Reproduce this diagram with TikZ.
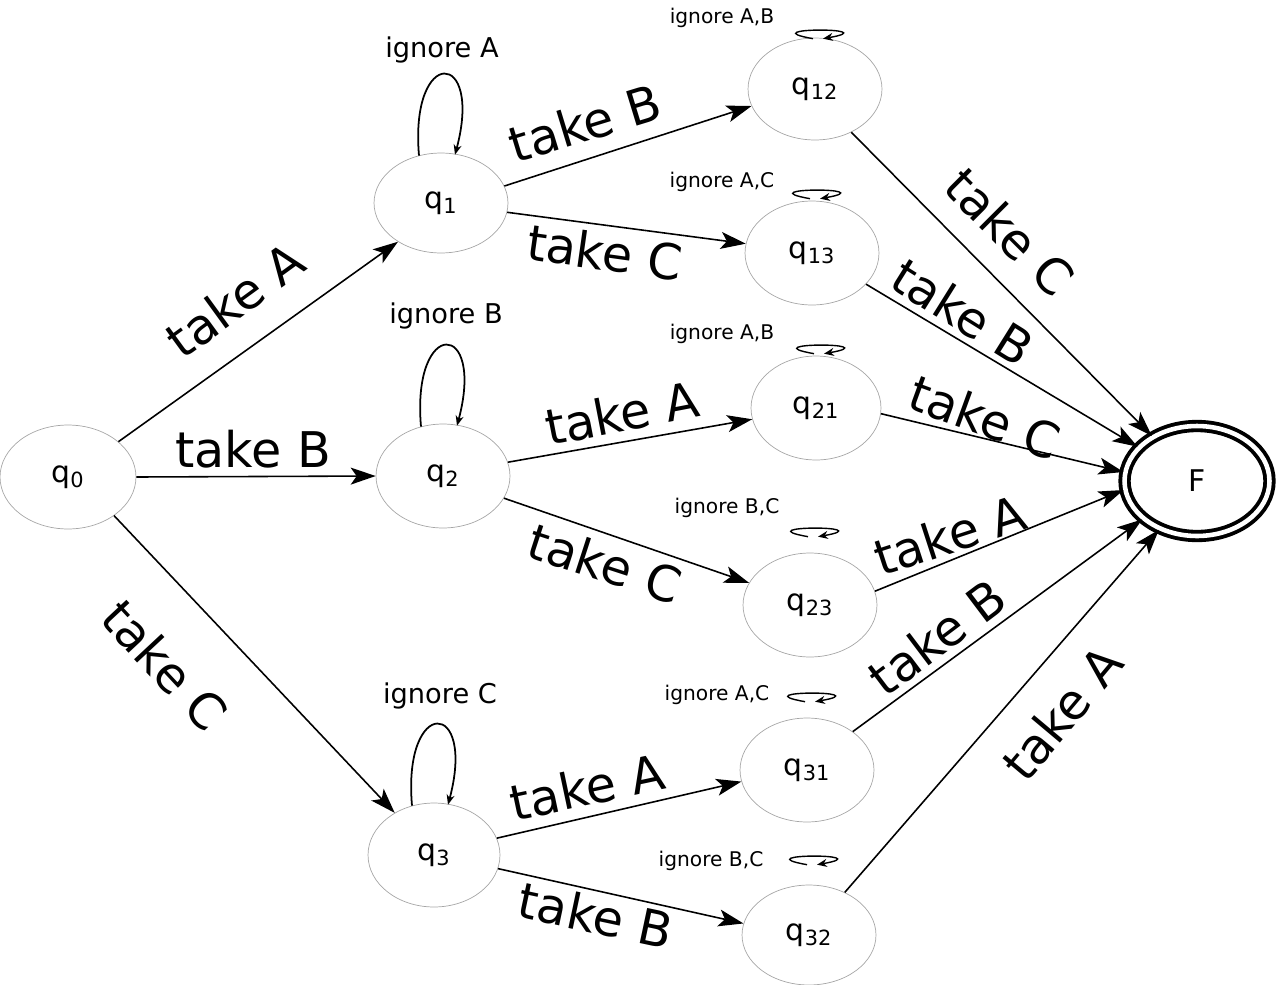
\documentclass[tikz,border=0pt]{standalone}
\usepackage{fontspec}
\setmainfont{DejaVu Sans}
\usetikzlibrary{arrows.meta,calc,shapes.geometric}
\begin{document}
\begin{tikzpicture}[x=0.02cm,y=-0.02cm,
  st/.style={draw=black!35,line width=0.4pt,ellipse,font=\fontsize{17}{20}\selectfont},
  arr/.style={-{Stealth[length=0.5cm,width=0.34cm,inset=0.12cm]},line width=0.9pt},
  sarr/.style={-{Stealth[length=0.2cm,width=0.16cm]},line width=0.8pt},
  lab/.style={font=\fontsize{28}{30}\selectfont},
  ilab/.style={font=\fontsize{15.5}{18}\selectfont},
  slab/.style={font=\fontsize{11.5}{13}\selectfont}]
\useasboundingbox (0,0) rectangle (1277,984);
\tikzset{mk/.style args={#1/#2}{st,minimum width=#1*0.04cm,minimum height=#2*0.04cm,inner sep=0pt}}
\node[mk=68/52] (q0) at (68,477) {q\textsubscript{0}};
\node[mk=67/50] (q1) at (441,203) {q\textsubscript{1}};
\node[mk=67/52] (q2) at (443,476) {q\textsubscript{2}};
\node[mk=66/52] (q3) at (434,855) {q\textsubscript{3}};
\node[mk=67/51] (q12) at (815,89) {q\textsubscript{12}};
\node[mk=67/52] (q13) at (812,253) {q\textsubscript{13}};
\node[mk=65/52] (q21) at (816,408) {q\textsubscript{21}};
\node[mk=67/52] (q23) at (810,605) {q\textsubscript{23}};
\node[mk=67/52] (q31) at (807,770) {q\textsubscript{31}};
\node[mk=67/50] (q32) at (809,935) {q\textsubscript{32}};
\node[ellipse,draw,line width=2.2pt,double,double distance=2.6pt,minimum width=2.9cm,minimum height=2.2cm,font=\fontsize{17}{20}\selectfont] (F) at (1197,481) {F};
% edges
\draw[arr] (q0.35) -- (q1.222);
\draw[arr] (q0.east) -- (q2.west);
\draw[arr] (q0.-40) -- (q3.133);
\draw[arr] (q1.15) -- (q12.195);
\draw[arr] (q1.-8) -- (q13.172);
\draw[arr] (q2.12) -- (q21.190);
\draw[arr] (q2.-20) -- (q23.160);
\draw[arr] (q3.15) -- (q31.190);
\draw[arr] (q3.-12) -- (q32.170);
\draw[arr] (q12.-50) -- (F.135);
\draw[arr] (q13.-30) -- (F.150);
\draw[arr] (q21.-5) -- (F.173);
\draw[arr] (q23.12) -- (F.187);
\draw[arr] (q31.40) -- (F.215);
\draw[arr] (q32.50) -- (F.232);
% labels
\node[lab,rotate=36] at (235,300) {take A};
\node[lab] at (253,449) {take B};
\node[lab,rotate=-47] at (165,665) {take C};
\node[lab,rotate=17] at (585,123) {take B};
\node[lab,rotate=-8] at (605,252) {take C};
\node[lab,rotate=11] at (622,413) {take A};
\node[lab,rotate=-18] at (605,563) {take C};
\node[lab,rotate=12] at (587,787) {take A};
\node[lab,rotate=-12] at (596,915) {take B};
\node[lab,rotate=-45] at (1010,232) {take C};
\node[lab,rotate=-32] at (963,312) {take B};
\node[lab,rotate=-20] at (985,417) {take C};
\node[lab,rotate=18] at (950,535) {take A};
\node[lab,rotate=37] at (937,637) {take B};
\node[lab,rotate=50] at (1062,713) {take A};
% big loops
\draw[sarr,line width=1pt] ($(q1.north)+(-22,3)$) to[out=95,in=75,distance=2.2cm] ($(q1.north)+(14,2)$);
\node[ilab] at (442,50) {ignore A};
\draw[sarr,line width=1pt] ($(q2.north)+(-22,3)$) to[out=95,in=75,distance=2.2cm] ($(q2.north)+(14,2)$);
\node[ilab] at (446,316) {ignore B};
\draw[sarr,line width=1pt] ($(q3.north)+(-22,3)$) to[out=95,in=75,distance=2.2cm] ($(q3.north)+(14,2)$);
\node[ilab] at (440,696) {ignore C};
% small loops
\foreach \n/\dy in {q12/1,q13/-2,q21/-2,q23/-16,q31/-16,q32/-20}{
  \draw[sarr] ($(\n.north)+(-2,\dy)$) to[out=170,in=10,distance=1.3cm] ($(\n.north)+(8,\dy)$);
}
\node[slab] at (722,18) {ignore A,B};
\node[slab] at (722,182) {ignore A,C};
\node[slab] at (722,334) {ignore A,B};
\node[slab] at (727,508) {ignore B,C};
\node[slab] at (717,695) {ignore A,C};
\node[slab] at (711,861) {ignore B,C};
\end{tikzpicture}
\end{document}
